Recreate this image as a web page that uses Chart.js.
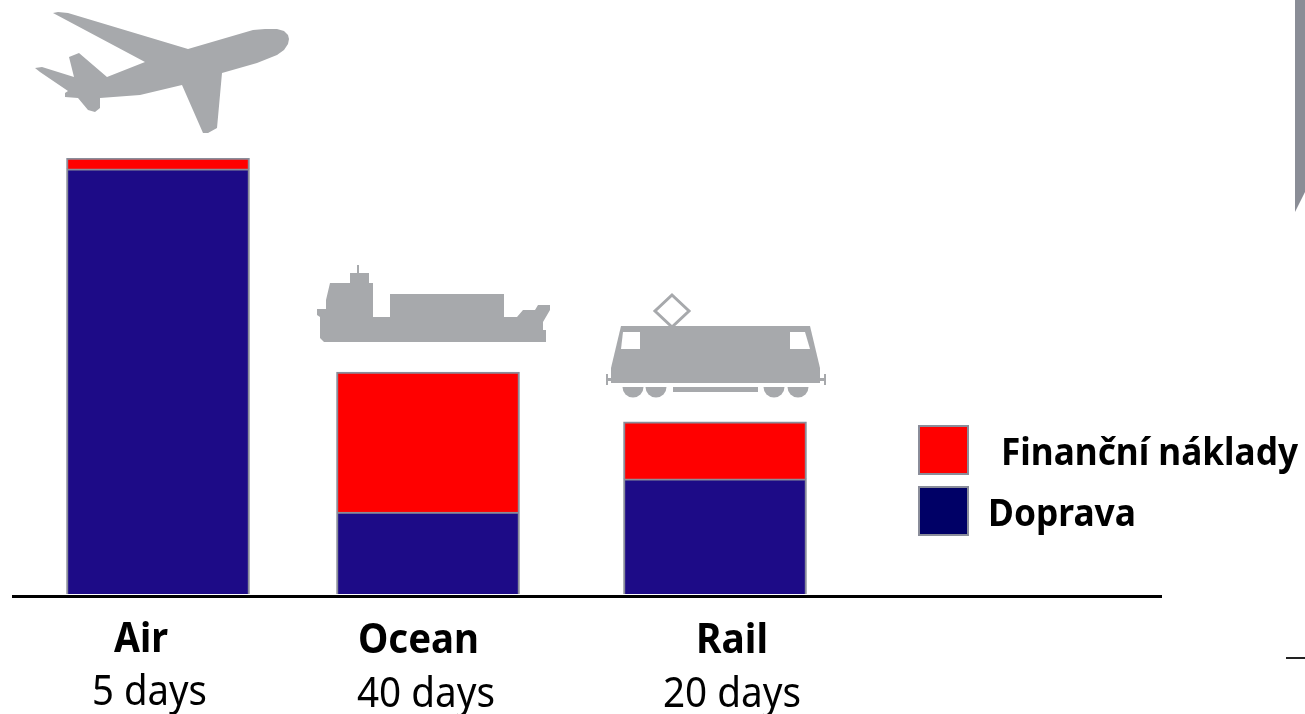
<!DOCTYPE html>
<html>
<head>
<meta charset="utf-8">
<style>
  html, body { margin: 0; padding: 0; background: #fff; overflow: hidden; }
  canvas { display: block; }
</style>
<script src="https://cdn.jsdelivr.net/npm/chart.js@4"></script>
</head>
<body>
<canvas id="costChart" width="1305" height="714"></canvas>
<script>
const modes = ["Air", "Ocean", "Rail"];
const transitTimes = ["5 days", "40 days", "20 days"];
const seriesNames = ["Doprava", "Finanční náklady"];
const dopravaValues = [97.5, 18.8, 26.4];
const financniValues = [2.5, 32.1, 13.1];

const GREY = "#a7a9ac";
const EDGE = "#8a8d9a";
const FONT = '"Noto Sans"';

// the source spaces its bars unevenly, so the scale takes a per-slot shift
class ShiftedCategoryScale extends Chart.CategoryScale {
  getPixelForValue(value, index) {
    const shift = (this.options.slotShift || [])[index === undefined ? value : index] || 0;
    return super.getPixelForValue(value, index) + shift;
  }
}
ShiftedCategoryScale.id = "shiftedCategory";
ShiftedCategoryScale.defaults = Chart.CategoryScale.defaults;
Chart.register(ShiftedCategoryScale);

function poly(ctx, pts) {
  ctx.beginPath();
  pts.forEach((p, i) => i ? ctx.lineTo(p[0], p[1]) : ctx.moveTo(p[0], p[1]));
  ctx.closePath();
  ctx.fill();
}

function drawPlane(ctx) {
  ctx.fillStyle = GREY;
  poly(ctx, [[53,13],[58,12],[68,13],[188,49],[253,30],[265,29],[277,29],[284,31],[288,35],[289,39],[288,44],[284,50],[277,55],[257,63],[222,73],[217,128],[208,133],[203,133],[182,85],[140,95],[100,98],[100,108],[95,112],[88,110],[78,98],[65,97],[65,93],[68,91],[40,72],[35,68],[42,67],[74,77],[69,57],[79,53],[107,77],[145,62]]);
}

function drawShip(ctx) {
  ctx.fillStyle = GREY;
  poly(ctx, [[317,309],[326,309],[326,300],[330,283],[350,283],[350,273],[357,273],[357,265],[359,265],[359,273],[369,273],[369,283],[373,283],[373,317],[390,317],[390,294],[504,294],[504,317],[517,317],[523,310],[535,310],[538,305],[550,305],[550,310],[543,322],[543,330],[546,330],[546,342],[324,342],[320,338],[320,317],[317,315]]);
}

function drawTrain(ctx) {
  ctx.fillStyle = GREY;
  poly(ctx, [[621,326],[810,326],[820,368],[820,383],[611,383],[611,368]]);
  ctx.fillRect(607, 378, 219, 3);
  ctx.fillRect(606, 374, 2, 11);
  ctx.fillRect(824, 374, 2, 11);
  ctx.fillRect(673, 387, 85, 5);
  [633, 656, 774, 798].forEach(x => {
    ctx.beginPath();
    ctx.arc(x, 387, 10.5, 0, Math.PI);
    ctx.fill();
  });
  ctx.fillStyle = "#fff";
  poly(ctx, [[623,332],[640,332],[640,349],[621,349]]);
  poly(ctx, [[790,332],[805,332],[810,349],[790,349]]);
  ctx.strokeStyle = GREY;
  ctx.lineWidth = 3;
  ctx.beginPath();
  ctx.moveTo(672, 295); ctx.lineTo(689, 311); ctx.lineTo(672, 327); ctx.lineTo(655, 311);
  ctx.closePath();
  ctx.stroke();
}

function drawLabel(ctx, text, x, y, width, font) {
  ctx.font = font;
  ctx.fillStyle = "#000";
  ctx.textAlign = "left";
  ctx.textBaseline = "alphabetic";
  ctx.fillText(text, x, y, width);
}

const artwork = {
  id: "artwork",
  afterDraw(chart) {
    const { ctx } = chart;
    ctx.save();
    drawPlane(ctx);
    drawShip(ctx);
    drawTrain(ctx);

    // baseline runs well past the bars
    const y0 = chart.scales.y.getPixelForValue(0);
    ctx.fillStyle = "#000";
    ctx.fillRect(12, y0 + 1, 1150, 3);

    const bold = `bold 42px ${FONT}`;
    const regular = `41px ${FONT}`;
    drawLabel(ctx, modes[0], 114, 652, 54, bold);
    drawLabel(ctx, modes[1], 358, 653, 121, bold);
    drawLabel(ctx, modes[2], 696, 653, 72, bold);
    drawLabel(ctx, transitTimes[0], 92, 705, 115, regular);
    drawLabel(ctx, transitTimes[1], 357, 707, 138, regular);
    drawLabel(ctx, transitTimes[2], 663, 707, 138, regular);

    // legend
    ctx.lineWidth = 2;
    ctx.strokeStyle = EDGE;
    ctx.fillStyle = "#ff0000";
    ctx.fillRect(919, 426, 49, 48);
    ctx.strokeRect(919, 426, 49, 48);
    ctx.fillStyle = "#000066";
    ctx.fillRect(919, 487, 49, 48);
    ctx.strokeRect(919, 487, 49, 48);
    drawLabel(ctx, seriesNames[1], 1001, 465, 297, `bold 37px ${FONT}`);
    drawLabel(ctx, seriesNames[0], 988, 526, 148, `bold 37px ${FONT}`);

    // leftovers at the page edge of the source slide
    ctx.fillStyle = "#8a8d96";
    poly(ctx, [[1295,0],[1305,0],[1305,192],[1295,212]]);
    ctx.fillStyle = "#222";
    ctx.fillRect(1286, 657, 19, 2);
    ctx.restore();
  }
};

new Chart(document.getElementById("costChart").getContext("2d"), {
  type: "bar",
  data: {
    labels: modes,
    datasets: [
      { label: seriesNames[0], data: dopravaValues, backgroundColor: "#1d0b87", borderColor: EDGE, borderWidth: 2 },
      { label: seriesNames[1], data: financniValues, backgroundColor: "#ff0000", borderColor: EDGE, borderWidth: 2 }
    ]
  },
  options: {
    responsive: false,
    animation: false,
    devicePixelRatio: 1,
    barThickness: 183,
    layout: { padding: { left: 18.75, right: 450.75, top: 158, bottom: 120 } },
    plugins: { legend: { display: false }, tooltip: { enabled: false } },
    scales: {
      x: {
        type: "shiftedCategory",
        stacked: true,
        slotShift: [0, -8.5, 0],
        grid: { display: false },
        border: { display: false },
        ticks: { display: false },
        afterFit: s => { s.height = 0; }
      },
      y: { stacked: true, display: false, min: 0, max: 100 }
    }
  },
  plugins: [artwork]
});
</script>
</body>
</html>
